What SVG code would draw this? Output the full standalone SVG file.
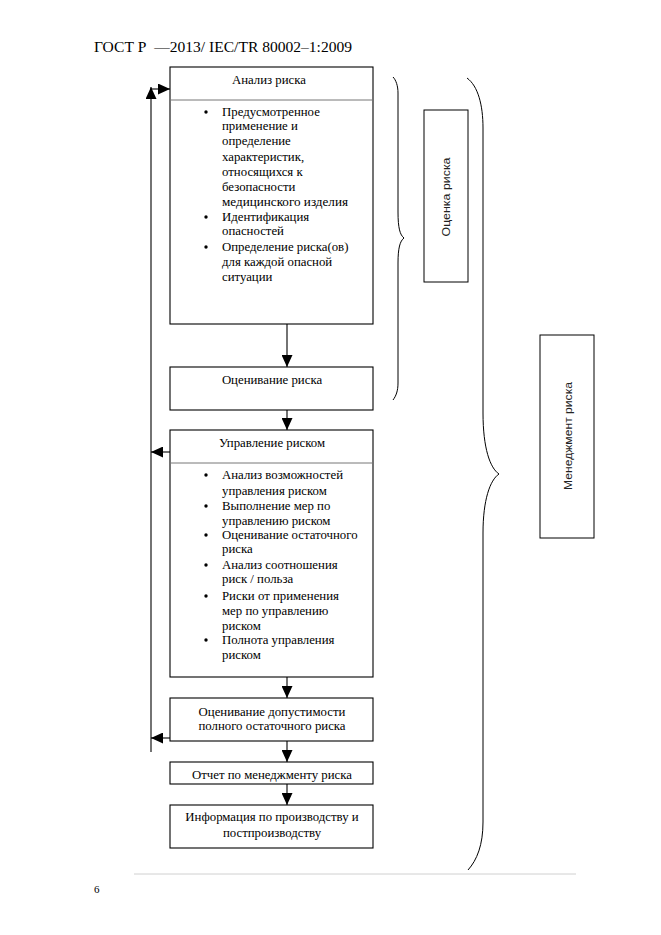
<svg xmlns="http://www.w3.org/2000/svg" width="661" height="935" viewBox="0 0 661 935">
<style>
.bx{fill:#fff;stroke:#000;stroke-width:1.1}
.dv{stroke:#777;stroke-width:1}
.t{font-family:"Liberation Serif","Times New Roman",serif;font-size:12.8px;fill:#000}
.c{text-anchor:middle}
.s{font-family:"Liberation Sans",Arial,sans-serif;font-size:11px;fill:#222;text-anchor:middle}
.ln{fill:none;stroke:#000;stroke-width:1.1}
.br{fill:none;stroke:#000;stroke-width:1}
</style>
<defs>
<marker id="ah" markerUnits="userSpaceOnUse" markerWidth="12" markerHeight="11" refX="12" refY="5.5" orient="auto">
<path d="M0,0 L12,5.5 L0,11 z" fill="#000"/>
</marker>
</defs>
<rect width="661" height="935" fill="#fff"/>
<text x="94" y="52" class="t" style="font-size:15px" xml:space="preserve" textLength="258" lengthAdjust="spacingAndGlyphs">ГОСТ Р  —2013/ IEC/TR 80002–1:2009</text>

<g id="connectors">
<path class="ln" d="M287,324 V367" marker-end="url(#ah)"/>
<path class="ln" d="M287,410 V430" marker-end="url(#ah)"/>
<path class="ln" d="M287,677 V698" marker-end="url(#ah)"/>
<path class="ln" d="M287,741 V762" marker-end="url(#ah)"/>
<path class="ln" d="M287,784 V805" marker-end="url(#ah)"/>
<path class="ln" d="M170,452 H151" marker-end="url(#ah)"/>
<path class="ln" d="M170,738 H151" marker-end="url(#ah)"/>
<path class="ln" d="M151,752 V87" marker-end="url(#ah)"/>
<path class="ln" d="M150.5,89 H170" marker-end="url(#ah)"/>
</g>

<g id="n1">
<rect class="bx" x="170" y="67" width="203" height="257"/>
<line class="dv" x1="170" y1="100" x2="373" y2="100"/>
<text class="t c" x="269" y="84">Анализ риска</text>
<circle cx="206" cy="112" r="1.7"/>
<circle cx="206" cy="217" r="1.7"/>
<circle cx="206" cy="247" r="1.7"/>
<text class="t" x="222" y="116">Предусмотренное</text>
<text class="t" x="222" y="130">применение и</text>
<text class="t" x="222" y="145">определение</text>
<text class="t" x="222" y="161">характеристик,</text>
<text class="t" x="222" y="176">относящихся к</text>
<text class="t" x="222" y="191">безопасности</text>
<text class="t" x="222" y="206" textLength="126" lengthAdjust="spacingAndGlyphs">медицинского изделия</text>
<text class="t" x="222" y="221">Идентификация</text>
<text class="t" x="222" y="235">опасностей</text>
<text class="t" x="222" y="251">Определение риска(ов)</text>
<text class="t" x="222" y="266">для каждой опасной</text>
<text class="t" x="222" y="281">ситуации</text>
</g>

<g id="n2">
<rect class="bx" x="170" y="367" width="203" height="43"/>
<text class="t c" x="272" y="384">Оценивание риска</text>
</g>

<g id="n3">
<rect class="bx" x="170" y="430" width="203" height="247"/>
<line class="dv" x1="170" y1="463" x2="373" y2="463"/>
<text class="t c" x="272" y="447">Управление риском</text>
<circle cx="206" cy="475" r="1.7"/>
<circle cx="206" cy="506" r="1.7"/>
<circle cx="206" cy="535" r="1.7"/>
<circle cx="206" cy="565" r="1.7"/>
<circle cx="206" cy="596" r="1.7"/>
<circle cx="206" cy="640" r="1.7"/>
<text class="t" x="222" y="479">Анализ возможностей</text>
<text class="t" x="222" y="495">управления риском</text>
<text class="t" x="222" y="510">Выполнение мер по</text>
<text class="t" x="222" y="525">управлению риском</text>
<text class="t" x="222" y="539">Оценивание остаточного</text>
<text class="t" x="222" y="553">риска</text>
<text class="t" x="222" y="569">Анализ соотношения</text>
<text class="t" x="222" y="583">риск / польза</text>
<text class="t" x="222" y="600">Риски от применения</text>
<text class="t" x="222" y="615">мер по управлению</text>
<text class="t" x="222" y="630">риском</text>
<text class="t" x="222" y="644">Полнота управления</text>
<text class="t" x="222" y="659">риском</text>
</g>

<g id="n4">
<rect class="bx" x="170" y="698" width="203" height="43"/>
<text class="t c" x="272" y="716">Оценивание допустимости</text>
<text class="t c" x="272" y="730">полного остаточного риска</text>
</g>

<g id="n5">
<rect class="bx" x="170" y="762" width="203" height="22"/>
<text class="t c" x="272" y="779">Отчет по менеджменту риска</text>
</g>

<g id="n6">
<rect class="bx" x="170" y="805" width="203" height="43"/>
<text class="t c" x="272" y="821">Информация по производству и</text>
<text class="t c" x="272" y="837">постпроизводству</text>
</g>

<g id="brace1">
<path class="br" d="M393,77 C396,80 398,86 398,93 V212 C398,228 400,235 404,238 C400,241 398,248 398,263 V383 C398,391 396,396 393,400"/>
</g>
<g id="brace2">
<path class="br" d="M467,78 C478,86 483,105 483,128 V413 C483,448 490,468 499,474 C490,480 483,500 483,533 V822 C483,845 477,860 468,870"/>
</g>

<g id="n7">
<rect class="bx" x="424" y="110" width="44" height="172" style="stroke-width:1"/>
<text class="s" transform="translate(450,197) rotate(-90)" textLength="79" lengthAdjust="spacingAndGlyphs">Оценка риска</text>
</g>

<g id="n8">
<rect class="bx" x="540" y="335" width="54" height="203" style="stroke-width:1"/>
<text class="s" transform="translate(572,436) rotate(-90)" textLength="108" lengthAdjust="spacingAndGlyphs">Менеджмент риска</text>
</g>

<line x1="134" y1="874" x2="576" y2="874" stroke="#d0d0d0" stroke-width="1"/>
<text class="t" x="94" y="893" style="font-size:11px">6</text>
</svg>
